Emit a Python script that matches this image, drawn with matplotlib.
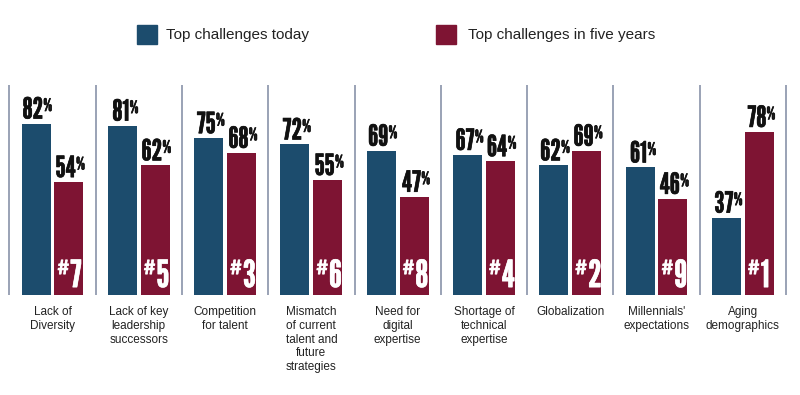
import matplotlib
matplotlib.use("Agg")
import matplotlib.pyplot as plt
import matplotlib.patheffects as pe
from matplotlib.patches import Rectangle

categories = [
    "Lack of\nDiversity",
    "Lack of key\nleadership\nsuccessors",
    "Competition\nfor talent",
    "Mismatch\nof current\ntalent and\nfuture\nstrategies",
    "Need for\ndigital\nexpertise",
    "Shortage of\ntechnical\nexpertise",
    "Globalization",
    "Millennials'\nexpectations",
    "Aging\ndemographics",
]
today = [82, 81, 75, 72, 69, 67, 62, 61, 37]
five_years = [54, 62, 68, 55, 47, 64, 69, 46, 78]
rank = [7, 5, 3, 6, 8, 4, 2, 9, 1]

BLUE = "#1c4c6d"
RED = "#7e1433"
SEP = "#9aa2b6"
GOTHIC = ["League Gothic", "DejaVu Sans"]
SANS = ["Liberation Sans", "DejaVu Sans"]

# layout: one group = 86.3 px, 1 % = 2.09 px, baseline at y=295 px
fig = plt.figure(figsize=(8, 3.95), dpi=100)
ax = fig.add_axes([0, 0, 1, 1])
ax.set_xlim(-0.608, 8.662)
ax.set_ylim(-47.8, 141.1)
ax.axis("off")

w = 0.336
off = 0.19
n = len(categories)
thick_k = [pe.withStroke(linewidth=0.45, foreground="#111111")]
thick_w = [pe.withStroke(linewidth=0.45, foreground="white")]

for i in range(n + 1):
    ax.plot([i - 0.5, i - 0.5], [0, 100.5], color=SEP, lw=1.4, solid_capstyle="butt")

for i in range(n):
    ax.bar(i - off, today[i], width=w, color=BLUE)
    ax.bar(i + off, five_years[i], width=w, color=RED)
    for xc, v in ((i - off, today[i]), (i + off, five_years[i])):
        ax.text(xc + 0.08, v + 2.4, str(v), ha="right", va="baseline",
                fontsize=21, family=GOTHIC, color="#111111", path_effects=thick_k)
        ax.text(xc + 0.085, v + 6.0, "%", ha="left", va="baseline",
                fontsize=12.5, family=GOTHIC, color="#111111", path_effects=thick_k)
    ax.text(i + off + 0.015, 3.8, str(rank[i]), ha="left", va="baseline",
            fontsize=27, family=GOTHIC, color="white", path_effects=thick_w)
    ax.text(i + off + 0.005, 10.0, "#", ha="right", va="baseline",
            fontsize=14, family=GOTHIC, color="white", path_effects=thick_w)
    ax.text(i, -5.2, categories[i], ha="center", va="top", fontsize=8.5,
            family=SANS, color="#222222", linespacing=1.2)

# legend
px = 86.3
def xpx(p):
    return -0.608 + p / px
def ypx(p):
    return (295 - p) / 2.09

ax.add_patch(Rectangle((xpx(137), ypx(44)), 20 / px, 19 / 2.09, color=BLUE))
ax.text(xpx(166), ypx(35), "Top challenges today", ha="left", va="center",
        fontsize=11, family=SANS, color="#222222")
ax.add_patch(Rectangle((xpx(436), ypx(44)), 20 / px, 19 / 2.09, color=RED))
ax.text(xpx(468), ypx(35), "Top challenges in five years", ha="left", va="center",
        fontsize=11, family=SANS, color="#222222")

fig.savefig("out.png", dpi=100)
